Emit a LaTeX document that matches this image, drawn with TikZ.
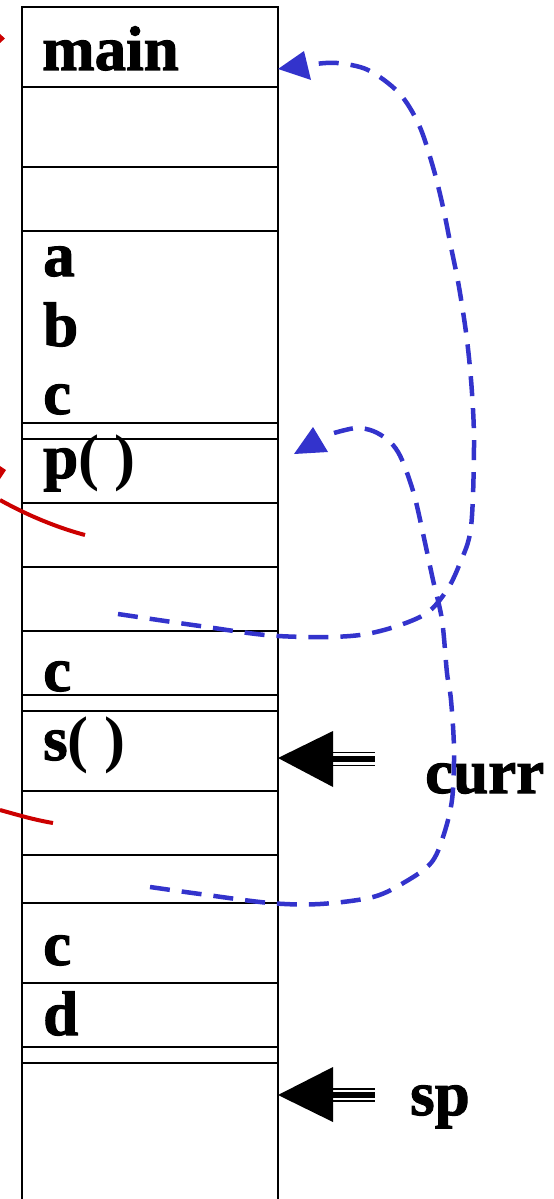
\documentclass[tikz,border=0pt]{standalone}
\usepackage{fontspec}
\setmainfont{Liberation Serif}
\font\lblraw="Liberation Serif/B:embolden=1.6" at 63pt
\font\lblparen="Liberation Serif/B" at 63pt
\definecolor{myblue}{RGB}{51,51,204}
\definecolor{myred}{RGB}{204,0,0}
\begin{document}
\begin{tikzpicture}[x=1pt,y=-1pt,
  lbl/.style={anchor=base west, inner sep=0pt, font=\lblraw},
  rulebox/.style={line width=1.8pt, black},
  bluedash/.style={draw=myblue, line width=4.5pt, dash pattern=on 20pt off 12pt},
  redline/.style={draw=myred, line width=4pt},
  tipfill/.style={fill=black},
  bluetip/.style={fill=myblue}]
\useasboundingbox (0,0) rectangle (554,1199);
% stack frame
\draw[rulebox] (22,1199) -- (22,7) -- (278,7) -- (278,1199);
\foreach \yy in {87,167,231,423,439,503,567,631,695,711,791,855,903,983,1047,1063}
  \draw[rulebox] (22,\yy) -- (278,\yy);
% labels
\node[lbl] (main) at (42,70) {main};
\node[lbl] (a) at (43,276) {a};
\node[lbl] (b) at (43,346) {b};
\node[lbl] (c1) at (43,414) {c};
\node[lbl] (p) at (43,478) {p{\lblparen( )}};
\node[lbl] (c2) at (43,691) {c};
\node[lbl] (s) at (43,760) {s{\lblparen( )}};
\node[lbl] (c3) at (43,965) {c};
\node[lbl] (d) at (43,1035) {d};
\node[lbl] (curr) at (425,793) {curr};
\node[lbl] (sp) at (410,1115) {sp};
% curr pointer
\coordinate (currtip) at (278,758);
\fill[tipfill] (currtip) -- (333,731) -- (333,787) -- cycle;
\draw[line width=1.6pt] (333,752.5) -- (375,752.5);
\draw[line width=6pt] (333,759) -- (375,759);
\draw[line width=1.6pt] (333,765.5) -- (375,765.5);
% sp pointer
\coordinate (sptip) at (278,1095);
\fill[tipfill] (sptip) -- (333,1067) -- (333,1122) -- cycle;
\draw[line width=1.6pt] (333,1089) -- (375,1089);
\draw[line width=6pt] (333,1095) -- (375,1095);
\draw[line width=1.6pt] (333,1101) -- (375,1101);
% blue dashed link 1 (to main)
\coordinate (l1start) at (118,614);
\coordinate (l1tip) at (278,69);
\draw[bluedash] plot[smooth, tension=0.55] coordinates {(118,614) (200,626) (278,636) (360,635) (420,617) (445,593) (460,563) (471,527) (474,447) (472,393) (467,340) (459,287) (451,247) (443,207) (433,167) (419,125) (399,93) (368,70) (337,63) (316,64)};
\fill[bluetip] (l1tip) -- (304,51) -- (311,80) -- cycle;
% blue dashed link 2 (to p())
\coordinate (l2start) at (150,887);
\draw[bluedash] plot[smooth, tension=0.55] coordinates {(150,887) (200,894) (270,903) (320,904) (373,897) (405,882) (431,863) (443,837) (452,800) (454,750) (451,700) (447,673) (442,620) (433,580) (424,538) (415,498) (406,470) (398,452) (388,440) (373,431) (356,428) (334,433)};
\fill[bluetip] (313,427) -- (294,454) -- (328,452) -- cycle;
% red fragments
\fill[myred] (0,34) -- (5,38.5) -- (0,43) -- cycle;
\fill[myred] (0,466) -- (6,470) -- (0,479) -- cycle;
\draw[redline] (0,500) .. controls (25,514) and (55,527) .. (85,535);
\draw[redline] (0,810) .. controls (18,815) and (35,820) .. (53,823);
\end{tikzpicture}
\end{document}
